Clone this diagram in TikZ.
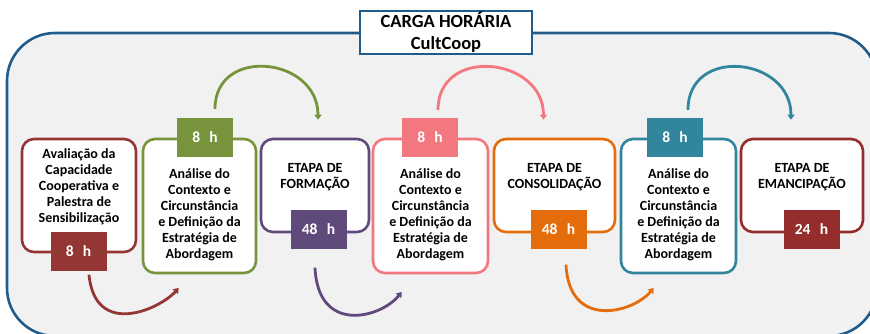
\documentclass[tikz,border=0pt]{standalone}
\usepackage{fontspec}
\setmainfont{Carlito}
\usetikzlibrary{arrows.meta,calc}
\definecolor{cframe}{HTML}{1F5C8B}
\definecolor{cdred}{HTML}{943634}
\definecolor{cgreen}{HTML}{77933C}
\definecolor{cpurple}{HTML}{604A7B}
\definecolor{cpink}{HTML}{F2777E}
\definecolor{corange}{HTML}{E46C0A}
\definecolor{cteal}{HTML}{31859C}
\definecolor{cdred2}{HTML}{962D2D}
\definecolor{cbg}{HTML}{F1F1F1}
\begin{document}
\begin{tikzpicture}[x=1pt,y=1pt,
  stage/.style={draw=#1,line width=2.6pt,fill=white,rounded corners=12pt,inner sep=0pt},
  hour/.style={fill=#1,draw=none,minimum width=56pt,minimum height=39pt,inner sep=0pt,text=white,font=\bfseries\fontsize{15.5}{17}\selectfont},
  txt/.style={align=center,font=\bfseries\fontsize{14}{16}\selectfont,inner sep=0pt},
  arr/.style={draw=#1,line width=2.8pt,-{Triangle[width=7pt,length=5pt]}},
]
\useasboundingbox (0,0) rectangle (870,333);
\begin{scope}
\clip (0,0) rectangle (870,333);
\draw[cframe,line width=2.6pt,fill=cbg,rounded corners=48pt] (7,-3) rectangle (877,300);
\end{scope}
\node[draw=cframe,line width=2.2pt,fill=white,minimum width=172pt,minimum height=43pt,inner sep=0pt,align=center,font=\bfseries\fontsize{18.5}{22}\selectfont] (title) at (446,300.5) {CARGA HORÁRIA\\CultCoop};

% stage boxes
\node[stage=cdred,minimum width=114pt,minimum height=113pt] (b1) at (79,137.5) {};
\node[stage=cgreen,minimum width=113pt,minimum height=134pt] (b2) at (199.5,127) {};
\node[stage=cpurple,minimum width=108pt,minimum height=93pt] (b3) at (315,147.5) {};
\node[stage=cpink,minimum width=115pt,minimum height=134pt] (b4) at (430.5,127) {};
\node[stage=corange,minimum width=121pt,minimum height=93pt] (b5) at (554.5,147.5) {};
\node[stage=cteal,minimum width=115pt,minimum height=134pt] (b6) at (678.5,127) {};
\node[stage=cdred2,minimum width=122pt,minimum height=93pt] (b7) at (802,147.5) {};

% texts
\node[txt] (t1) at ($(b1.center)+(0,9)$) {Avaliação da\\Capacidade\\Cooperativa e\\Palestra de\\Sensibilização};
\node[txt] (t2) at ($(b2.center)+(0,-9)$) {Análise do\\Contexto e\\Circunstância\\e Definição da\\Estratégia de\\Abordagem};
\node[txt] (t3) at ($(b3.center)+(0,8)$) {ETAPA DE\\FORMAÇÃO};
\node[txt] (t4) at ($(b4.center)+(0,-9)$) {Análise do\\Contexto e\\Circunstância\\e Definição da\\Estratégia de\\Abordagem};
\node[txt] (t5) at ($(b5.center)+(0,8)$) {ETAPA DE\\CONSOLIDAÇÃO};
\node[txt] (t6) at ($(b6.center)+(0,-9)$) {Análise do\\Contexto e\\Circunstância\\e Definição da\\Estratégia de\\Abordagem};
\node[txt] (t7) at ($(b7.center)+(0,8)$) {ETAPA DE\\EMANCIPAÇÃO};

% hour boxes
\node[hour=cdred] (h1) at (78.5,82) {8\hspace{0.6em}h};
\node[hour=cgreen] (h2) at (205,195.5) {8\hspace{0.6em}h};
\node[hour=cpurple] (h3) at (318.5,104) {48\hspace{0.6em}h};
\node[hour=cpink] (h4) at (430,195.5) {8\hspace{0.6em}h};
\node[hour=corange] (h5) at (558.5,104) {48\hspace{0.6em}h};
\node[hour=cteal] (h6) at (675,195.5) {8\hspace{0.6em}h};
\node[hour=cdred2] (h7) at (811.5,104) {24\hspace{0.6em}h};

% top arcs
\draw[arr=cgreen] ($(h2.north)+(10,9)$) .. controls +(0,63) and +(0,63) .. ($(b3.north)+(3,18)$);
\draw[arr=cpink] ($(h4.north)+(8,8)$) .. controls +(0,64) and +(0,63) .. ($(b5.north)+(-11,18)$);
\draw[arr=cteal] ($(h6.north)+(13,8)$) .. controls +(0,64) and +(0,63) .. ($(b7.north)+(-11,18)$);

% bottom arcs
\draw[arr=cdred] ($(h1.south)+(10.5,-4)$) .. controls +(6,-63) and +(-20,-22) .. ($(b2.west)+(37,-82)$);
\draw[arr=cpurple] ($(h3.south)+(-3.5,-19)$) .. controls +(3,-67) and +(-21,-26) .. ($(b4.west)+(30,-86)$);
\draw[arr=corange] ($(h5.south)+(7.5,-16)$) .. controls +(3,-65) and +(-21,-25) .. ($(b6.west)+(34,-82)$);
\end{tikzpicture}
\end{document}
